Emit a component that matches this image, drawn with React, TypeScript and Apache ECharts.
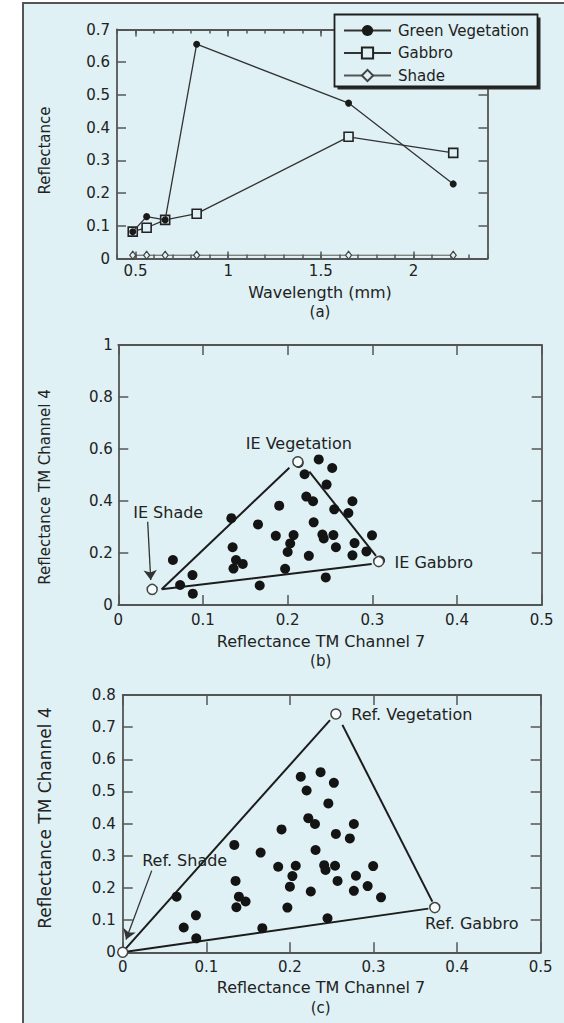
import React, { useEffect, useRef } from "react";
import * as echarts from "echarts";

const FONT = '"DejaVu Sans", sans-serif';
const TEXT = "#222";
const AXIS = "#555";
const BG = "#dff1f4";

// ---- Panel (a): spectra ----
const wavelengths = [0.485, 0.56, 0.66, 0.83, 1.65, 2.215];
const vegetation = [0.082, 0.128, 0.118, 0.655, 0.475, 0.228];
const gabbro = [0.082, 0.094, 0.118, 0.137, 0.372, 0.323];
const shade = [0.01, 0.01, 0.01, 0.01, 0.01, 0.01];
const wavelengthLabels = [0.5, 1, 1.5, 2];

// ---- Pixels (TM channel 7 / channel 4), shared by (b) and (c) ----
const pixelCh7 = [0.0645, 0.073, 0.0876, 0.088, 0.1335, 0.135, 0.139, 0.147, 0.136, 0.165, 0.167, 0.186, 0.19, 0.207, 0.203, 0.2, 0.197, 0.213, 0.22, 0.222, 0.23, 0.2307, 0.225, 0.2367, 0.2526, 0.246, 0.241, 0.2426, 0.254, 0.255, 0.257, 0.245, 0.2717, 0.2765, 0.279, 0.2765, 0.293, 0.2996, 0.309];
const pixelCh4 = [0.173, 0.077, 0.115, 0.0435, 0.334, 0.222, 0.173, 0.158, 0.14, 0.31, 0.075, 0.266, 0.382, 0.269, 0.237, 0.204, 0.139, 0.546, 0.503, 0.417, 0.399, 0.318, 0.189, 0.56, 0.527, 0.463, 0.271, 0.256, 0.269, 0.368, 0.222, 0.106, 0.354, 0.399, 0.238, 0.191, 0.206, 0.268, 0.171];

// ---- Panel (b): image endmembers ----
const ieNames = ["IE Shade", "IE Vegetation", "IE Gabbro"];
const ieCh7 = [0.04, 0.212, 0.3075];
const ieCh4 = [0.06, 0.551, 0.167];
const ieEdgeFrom = [[0.0512, 0.0603], [0.2256, 0.513], [0.0512, 0.0603]];
const ieEdgeTo = [[0.202, 0.528], [0.3043, 0.1885], [0.2992, 0.1577]];
const ieArrow = [[0.0347, 0.32], [0.0383, 0.096]];

// ---- Panel (c): reference endmembers ----
const refNames = ["Ref. Shade", "Ref. Vegetation", "Ref. Gabbro"];
const refCh7 = [0, 0.255, 0.3733];
const refCh4 = [0, 0.741, 0.139];
const refEdgeFrom = [[0.0028, 0.0093], [0.2628, 0.707], [0.004, 0.002]];
const refEdgeTo = [[0.248, 0.722], [0.3704, 0.1575], [0.3656, 0.1358]];
const refArrow = [[0.0347, 0.254], [0.004, 0.04]];

// label placement (pixels, styling only)
const ieLabelOffset = [[16, -77], [1, -18.5], [55, 1]];
const refLabelOffset = [[62, -92], [76, 1], [37, 16]];

const tickLine = { color: AXIS, width: 1.5 };

function valueAxis(
  gridIndex: number,
  position: string,
  min: number,
  max: number,
  interval: number,
  tickLen: number,
  showLabel: boolean,
  margin: number,
  formatter?: any
) {
  return {
    type: "value",
    gridIndex,
    position,
    min,
    max,
    interval,
    axisLine: { show: true, onZero: false, lineStyle: { color: AXIS, width: 1.8 } },
    axisTick: { show: true, inside: true, length: tickLen, lineStyle: tickLine },
    axisLabel: {
      show: showLabel,
      margin,
      fontSize: 15,
      fontFamily: FONT,
      color: TEXT,
      showMinLabel: true,
      showMaxLabel: true,
      ...(formatter ? { formatter } : {}),
    },
    splitLine: { show: false },
  };
}

function majorTickAxis(gridIndex: number, position: string, min: number, max: number, values: number[], len: number) {
  return {
    type: "value",
    gridIndex,
    position,
    min,
    max,
    axisLine: { show: false, onZero: false },
    axisTick: { show: true, inside: true, length: len, customValues: values, lineStyle: tickLine },
    axisLabel: { show: false },
    splitLine: { show: false },
  };
}

const halfFormatter = (v: number) =>
  Math.abs(v * 2 - Math.round(v * 2)) < 1e-6 ? String(Number(v.toFixed(1))) : "";

function endmemberSeries(
  xAxisIndex: number,
  yAxisIndex: number,
  names: string[],
  xs: number[],
  ys: number[],
  offsets: number[][]
) {
  return {
    type: "scatter",
    xAxisIndex,
    yAxisIndex,
    symbol: "circle",
    symbolSize: 10,
    z: 5,
    silent: true,
    itemStyle: { color: "#f6fbfc", borderColor: "#444", borderWidth: 1.5, opacity: 1 },
    data: names.map((n, i) => ({
      name: n,
      value: [xs[i], ys[i]],
      label: {
        show: true,
        position: "inside",
        offset: offsets[i],
        formatter: "{b}",
        color: TEXT,
        fontSize: 16,
        fontFamily: FONT,
        textBorderWidth: 0,
      },
    })),
  };
}

function edgeSeries(xAxisIndex: number, yAxisIndex: number, from: number[][], to: number[][]) {
  return {
    type: "lines",
    coordinateSystem: "cartesian2d",
    xAxisIndex,
    yAxisIndex,
    z: 3,
    silent: true,
    symbol: "none",
    lineStyle: { color: "#1c1c1c", width: 2, opacity: 1 },
    data: from.map((f, i) => ({ coords: [f, to[i]] })),
  };
}

function arrowSeries(xAxisIndex: number, yAxisIndex: number, arrow: number[][]) {
  return {
    type: "lines",
    coordinateSystem: "cartesian2d",
    xAxisIndex,
    yAxisIndex,
    z: 3,
    silent: true,
    symbol: ["none", "arrow"],
    symbolSize: 10,
    lineStyle: { color: "#333", width: 1.3, opacity: 1 },
    data: [{ coords: arrow }],
  };
}

function pixelSeries(xAxisIndex: number, yAxisIndex: number) {
  return {
    type: "scatter",
    xAxisIndex,
    yAxisIndex,
    symbol: "circle",
    symbolSize: 10,
    z: 4,
    silent: true,
    itemStyle: { color: "#141414", opacity: 1 },
    data: pixelCh7.map((x, i) => [x, pixelCh4[i]]),
  };
}

function title(text: string, x: number, y: number, size: number, rotate = false) {
  return {
    type: "text",
    x,
    y,
    rotation: rotate ? Math.PI / 2 : 0,
    z: 6,
    silent: true,
    style: {
      text,
      fontSize: size,
      fontFamily: FONT,
      fill: TEXT,
      align: "center",
      verticalAlign: "middle",
    },
  };
}

const option: any = {
  animation: false,
  backgroundColor: "#ffffff",
  grid: [
    { left: 117, top: 29.5, width: 370.5, height: 229, outerBoundsMode: "none" },
    { left: 118.3, top: 345, width: 423.4, height: 260, outerBoundsMode: "none" },
    { left: 122.7, top: 695, width: 418, height: 257.3, outerBoundsMode: "none" },
  ],
  xAxis: [
    valueAxis(0, "bottom", 0.4, 2.4, 0.1, 4, true, 4.5, halfFormatter),
    valueAxis(0, "top", 0.4, 2.4, 0.1, 4, false, 0),
    majorTickAxis(0, "bottom", 0.4, 2.4, wavelengthLabels, 7),
    majorTickAxis(0, "top", 0.4, 2.4, wavelengthLabels, 7),
    valueAxis(1, "bottom", 0, 0.5, 0.1, 10, true, 7.5),
    valueAxis(1, "top", 0, 0.5, 0.1, 10, false, 0),
    valueAxis(2, "bottom", 0, 0.5, 0.1, 10, true, 7),
    valueAxis(2, "top", 0, 0.5, 0.1, 10, false, 0),
  ],
  yAxis: [
    valueAxis(0, "left", 0, 0.7, 0.1, 9, true, 7),
    valueAxis(0, "right", 0, 0.7, 0.1, 9, false, 0),
    valueAxis(1, "left", 0, 1, 0.2, 10, true, 5.5),
    valueAxis(1, "right", 0, 1, 0.2, 10, false, 0),
    valueAxis(2, "left", 0, 0.8, 0.1, 10, true, 7),
    valueAxis(2, "right", 0, 0.8, 0.1, 10, false, 0),
  ],
  legend: {
    orient: "vertical",
    left: 343,
    top: 23,
    padding: 0,
    itemWidth: 47,
    itemHeight: 14,
    itemGap: 7.5,
    z: 8,
    selectedMode: false,
    textStyle: { fontSize: 15, fontFamily: FONT, color: TEXT, padding: [0, 0, 0, 2] },
    data: ["Green Vegetation", "Gabbro", "Shade"],
  },
  graphic: [
    {
      type: "rect",
      z: -10,
      silent: true,
      shape: { x: 23, y: 3, width: 700, height: 1100 },
      style: { fill: BG, stroke: "#555", lineWidth: 2 },
    },
    {
      type: "rect",
      z: 7,
      silent: true,
      shape: { x: 337.5, y: 17.5, width: 203, height: 72 },
      style: { fill: "#2a2a2a" },
    },
    {
      type: "rect",
      z: 7,
      silent: true,
      shape: { x: 334.5, y: 14.5, width: 203, height: 72 },
      style: { fill: BG, stroke: "#1e1e1e", lineWidth: 1.8 },
    },
    title("Wavelength (mm)", 320, 292.7, 16),
    title("(a)", 320, 312.3, 15),
    title("Reflectance", 45, 150.5, 15, true),
    title("Reflectance TM Channel 7", 321, 641, 16),
    title("(b)", 320.7, 660.7, 15),
    title("Reflectance TM Channel 4", 45, 487, 15, true),
    title("Reflectance TM Channel 7", 321, 987.3, 16),
    title("(c)", 320.7, 1008, 15),
    title("Reflectance TM Channel 4", 45, 818, 17, true),
  ],
  series: [
    {
      type: "line",
      name: "Gabbro",
      xAxisIndex: 0,
      yAxisIndex: 0,
      z: 2,
      symbol: "rect",
      symbolSize: 9,
      itemStyle: { color: BG, borderColor: "#222", borderWidth: 1.6 },
      lineStyle: { color: "#333", width: 1.3 },
      data: wavelengths.map((w, i) => [w, gabbro[i]]),
    },
    {
      type: "line",
      name: "Green Vegetation",
      xAxisIndex: 0,
      yAxisIndex: 0,
      z: 3,
      symbol: "circle",
      symbolSize: 7,
      itemStyle: { color: "#1a1a1a" },
      lineStyle: { color: "#333", width: 1.3 },
      data: wavelengths.map((w, i) => [w, vegetation[i]]),
    },
    {
      type: "line",
      name: "Shade",
      xAxisIndex: 0,
      yAxisIndex: 0,
      z: 2,
      symbol: "diamond",
      symbolSize: [6, 8],
      itemStyle: { color: BG, borderColor: "#444", borderWidth: 1.2 },
      lineStyle: { color: "#555", width: 1 },
      data: wavelengths.map((w, i) => [w, shade[i]]),
    },
    // (b)
    pixelSeries(4, 2),
    edgeSeries(4, 2, ieEdgeFrom, ieEdgeTo),
    arrowSeries(4, 2, ieArrow),
    endmemberSeries(4, 2, ieNames, ieCh7, ieCh4, ieLabelOffset),
    // (c)
    pixelSeries(6, 4),
    edgeSeries(6, 4, refEdgeFrom, refEdgeTo),
    arrowSeries(6, 4, refArrow),
    endmemberSeries(6, 4, refNames, refCh7, refCh4, refLabelOffset),
  ],
};

export default function App() {
  const ref = useRef<HTMLDivElement>(null);
  useEffect(() => {
    if (!ref.current) return;
    const chart = echarts.init(ref.current, null, { renderer: "svg", width: 564, height: 1023 });
    chart.setOption(option);
    return () => chart.dispose();
  }, []);
  return (
    <div
      ref={ref}
      style={{ position: "absolute", left: 0, top: 0, width: 564, height: 1023 }}
    />
  );
}
